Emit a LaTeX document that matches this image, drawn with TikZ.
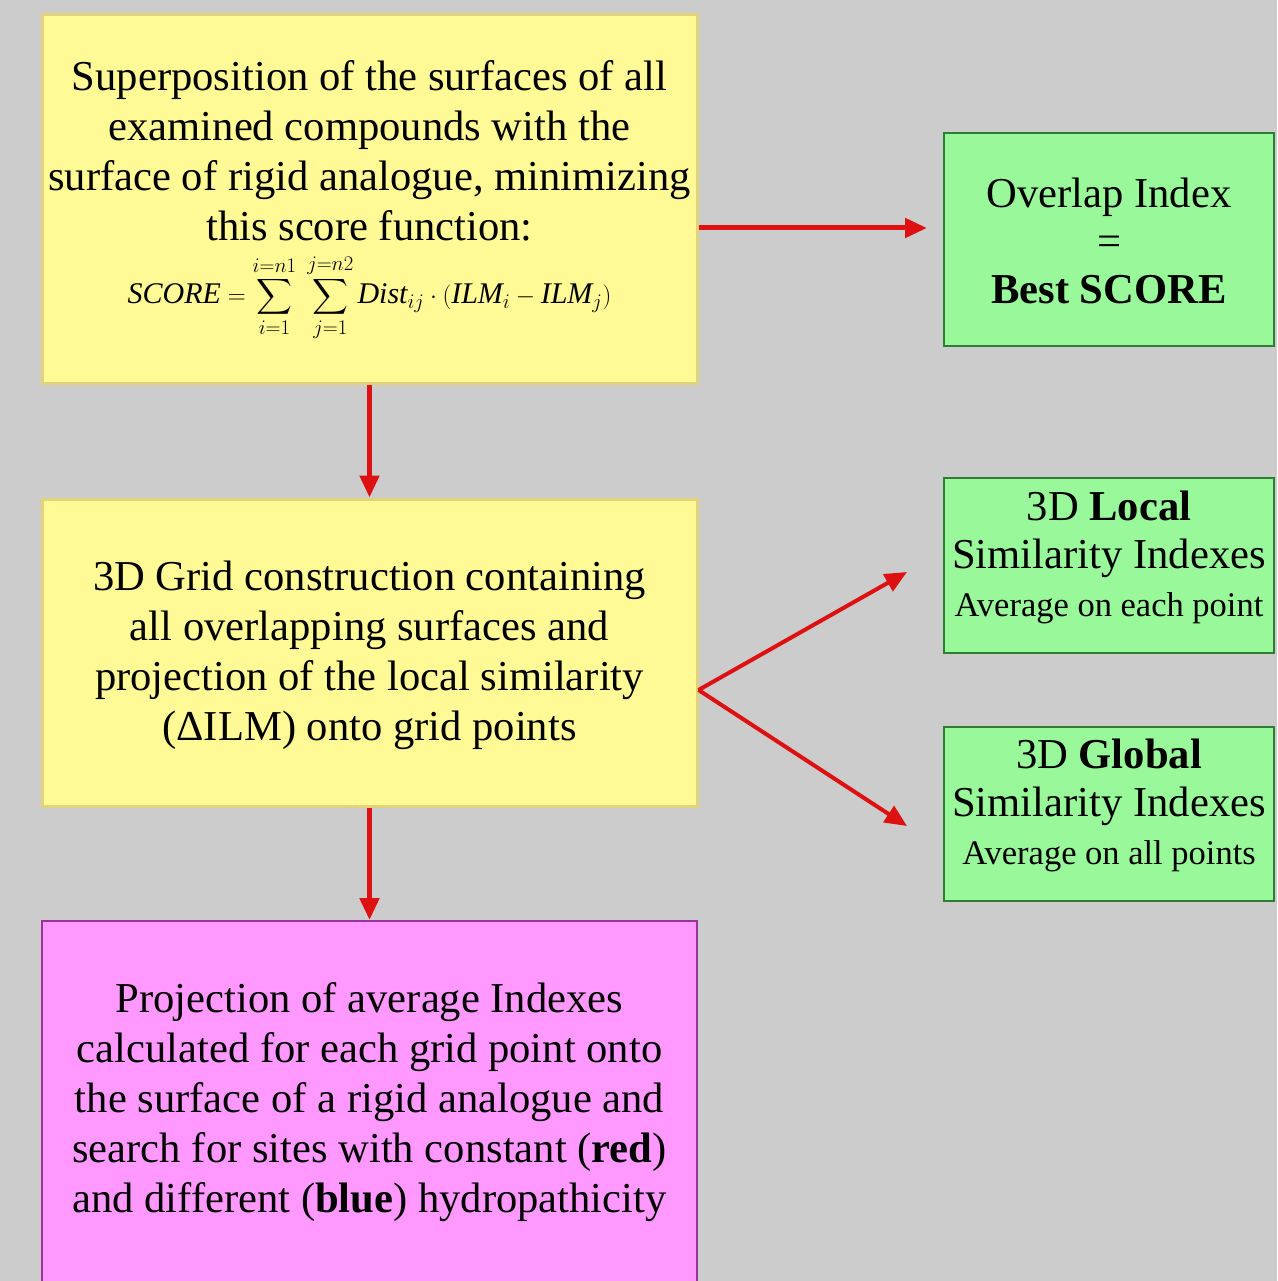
\documentclass[tikz,border=0pt]{standalone}
\usepackage{amsmath}
\usepackage{fontspec}
\setmainfont{Liberation Serif}
\usetikzlibrary{arrows.meta,calc}
\definecolor{bg}{HTML}{CCCCCC}
\definecolor{yfill}{HTML}{FFFA96}
\definecolor{ydraw}{HTML}{E2D27C}
\definecolor{gfill}{HTML}{99F899}
\definecolor{gdraw}{HTML}{2E7D32}
\definecolor{mfill}{HTML}{FF99FF}
\definecolor{mdraw}{HTML}{993399}
\definecolor{arr}{HTML}{DD1111}
\tikzset{
  ybox/.style={draw=ydraw,line width=3pt,fill=yfill,inner sep=0pt},
  gbox/.style={draw=gdraw,line width=2pt,fill=gfill,inner sep=0pt},
  mbox/.style={draw=mdraw,line width=2pt,fill=mfill,inner sep=0pt},
  bigtext/.style={inner sep=0pt,align=center,font=\fontsize{42.6}{50}\selectfont},
  gtext/.style={inner sep=0pt,align=center,font=\fontsize{42.6}{48}\selectfont},
  redarrow/.style={draw=arr,line width=5pt,-{Triangle[length=22pt,width=19pt]}},
  diagarrow/.style={draw=arr,line width=4pt,-{Triangle[length=22pt,width=19pt]}},
}
\begin{document}
\begin{tikzpicture}[x=1pt,y=-1pt]
\useasboundingbox (0,0) rectangle (1277,1281);
\fill[bg] (0,0) rectangle (1277,1281);
% boxes
\node[ybox,minimum width=655pt,minimum height=368pt] (b1) at (369.5,199) {};
\node[ybox,minimum width=655pt,minimum height=307pt] (b2) at (369.5,652.5) {};
\node[mbox,minimum width=655pt,minimum height=369pt] (b3) at (369.5,1105.5) {};
\node[gbox,minimum width=330pt,minimum height=213pt] (g1) at (1109,239.5) {};
\node[gbox,minimum width=330pt,minimum height=175pt] (g2) at (1109,565.5) {};
\node[gbox,minimum width=330pt,minimum height=174pt] (g3) at (1109,814) {};
% texts
\node[bigtext] (b1t) at (369.5,150.5)
  {Superposition of the surfaces of all\\examined compounds with the\\surface of rigid analogue, minimizing\\this score function:};
\node[inner sep=0pt,font=\fontsize{30}{32}\selectfont] (b1f) at (369.5,298)
  {$\displaystyle\mathit{SCORE} = \sum_{i=1}^{i=n1}\;\sum_{j=1}^{j=n2}\mathit{Dist}_{ij}\cdot(\mathit{ILM}_i - \mathit{ILM}_j)$};
\node[bigtext] (b2t) at (369.5,655)
  {3D Grid construction containing\\all overlapping surfaces and\\projection of the local similarity\\(ΔILM) onto grid points};
\node[bigtext] (b3t) at (369.5,1102)
  {Projection of average Indexes\\calculated for each grid point onto\\the surface of a rigid analogue and\\search for sites with constant (\textbf{red})\\and different (\textbf{blue}) hydropathicity};
\node[gtext] (g1t) at (1109,241)
  {Overlap Index\\=\\\textbf{Best SCORE}};
\node[gtext] (g2t) at (1109,557)
  {3D \textbf{Local}\\Similarity Indexes\\{\fontsize{34.5}{40}\selectfont Average on each point}};
\node[gtext] (g3t) at (1109,805)
  {3D \textbf{Global}\\Similarity Indexes\\{\fontsize{34.5}{40}\selectfont Average on all points}};
% connectors
\coordinate (a1s) at ([yshift=-29pt]b1.east);
\draw[redarrow,shorten >=16pt] (a1s) -- (a1s -| g1.west);
\draw[redarrow] (b1.south) -- (b2.north);
\draw[redarrow] (b2.south) -- (b3.north);
\coordinate (a2s) at ([yshift=-37.5pt]b2.east);
\draw[diagarrow] (a2s) -- ([xshift=-36pt,yshift=-6.5pt]g2.west);
\draw[diagarrow] (a2s) -- ([xshift=-36pt,yshift=-12pt]g3.west);
\end{tikzpicture}
\end{document}
